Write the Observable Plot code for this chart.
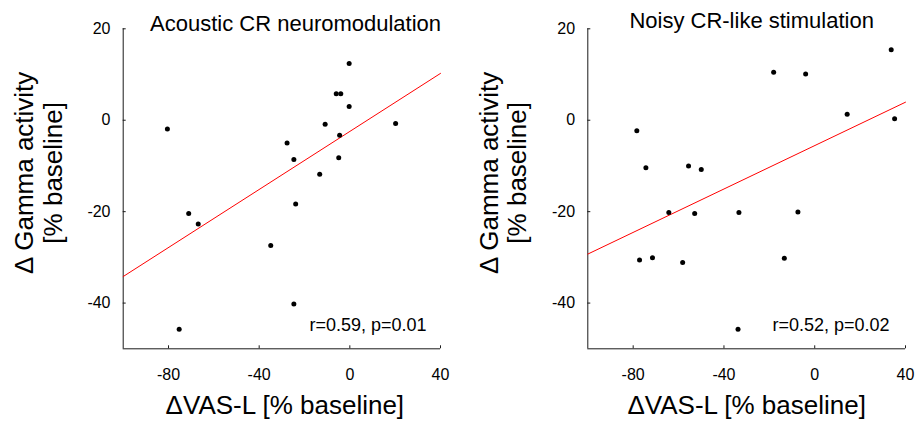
<!DOCTYPE html>
<html>
<head>
<meta charset="utf-8">
<script src="https://cdn.jsdelivr.net/npm/d3@7"></script>
<script src="https://cdn.jsdelivr.net/npm/@observablehq/plot@0.6"></script>
<style>
  html, body { margin: 0; padding: 0; background: #fff; }
  #wrap { position: relative; width: 915px; height: 422px; overflow: hidden; }
  #wrap svg { position: absolute; top: 0; overflow: visible; }
</style>
</head>
<body>
<div id="wrap"></div>
<script>
// ---- data ----
const xTicks = [-80, -40, 0, 40];
const yTicks = [20, 0, -20, -40];
const xDomain = [-100, 40];
const yDomain = [-50, 20];

const titles = ["Acoustic CR neuromodulation", "Noisy CR-like stimulation"];
const stats = ["r=0.59, p=0.01", "r=0.52, p=0.02"];
const xLabel = "ΔVAS-L [% baseline]";
const yLabelLines = ["Δ Gamma activity", "[% baseline]"];

const acousticVAS   = [-80.5, -75.3, -71.1, -66.9, -34.9, -27.7, -24.7, -23.9, -24.7, -13.3, -10.9, -6.0, -4.0, -4.5, -4.9, -0.3, -0.3, 20.2];
const acousticGamma = [ -1.9, -45.7, -20.4, -22.7, -27.4,  -5.0,  -8.6, -18.3, -40.2, -11.8,  -0.9,  5.8,  5.8, -3.3, -8.2, 12.4,  3.0, -0.7];

const noisyVAS   = [-78.4, -74.4, -77.2, -71.5, -64.3, -58.2, -55.6, -50.0, -52.9, -33.4, -33.8, -18.1, -13.4, -7.4, -4.0, 14.3, 33.7, 35.2];
const noisyGamma = [ -2.3, -10.4, -30.6, -30.1, -20.2, -31.1, -10.0, -10.8, -20.4, -20.2, -45.7,  10.5, -30.2, -20.1, 10.1,  1.3, 15.4,  0.3];

// ---- helpers ----
function fit(xs, ys) {
  const n = xs.length;
  const mx = d3.mean(xs), my = d3.mean(ys);
  let sxy = 0, sxx = 0;
  for (let i = 0; i < n; i++) { sxy += (xs[i] - mx) * (ys[i] - my); sxx += (xs[i] - mx) ** 2; }
  const b = sxy / sxx, a = my - b * mx;
  return xDomain.map(x => ({x, y: a + b * x}));
}

const FONT = "'Liberation Sans', Arial, Helvetica, sans-serif";
const AXIS = "#1a1a1a";
const fmt = d => String(d);

function panel({xs, ys, title, stat, left, width, marginLeft, marginRight, titleDx, titleDy, statDx, xLabelDx}) {
  const pts = xs.map((x, i) => ({x, y: ys[i]}));
  const chart = Plot.plot({
    width, height: 422,
    marginLeft, marginRight, marginTop: 28.3, marginBottom: 73.7,
    style: {fontFamily: FONT, fontSize: "16px", color: "#000", background: "transparent", overflow: "visible"},
    x: {domain: xDomain, axis: null},
    y: {domain: yDomain, axis: null},
    marks: [
      Plot.ruleX([xDomain[0]], {stroke: AXIS, strokeWidth: 1}),
      Plot.ruleY([yDomain[0]], {stroke: AXIS, strokeWidth: 1}),
      Plot.axisX(xTicks, {tickSize: -3, tickPadding: 23, stroke: AXIS, fontSize: 16, label: null, tickFormat: fmt}),
      Plot.axisY(yTicks, {tickSize: -3, tickPadding: 15.7, stroke: AXIS, fontSize: 16, label: null, tickFormat: fmt}),
      Plot.line(fit(xs, ys), {x: "x", y: "y", stroke: "#ff0000", strokeWidth: 1}),
      Plot.dot(pts, {x: "x", y: "y", r: 2.5, fill: "#000", stroke: "none"}),
      Plot.text([title], {frameAnchor: "top", textAnchor: "middle", lineAnchor: "bottom", dx: titleDx, dy: titleDy, fontSize: 22, fill: "#000"}),
      Plot.text([stat], {frameAnchor: "bottom-right", textAnchor: "end", lineAnchor: "bottom", dx: statDx, dy: -18, fontSize: 18, fill: "#000"}),
      Plot.text([xLabel], {frameAnchor: "bottom", textAnchor: "middle", lineAnchor: "bottom", dx: xLabelDx, dy: 64.7, fontSize: 26, fill: "#000"}),
      Plot.text([yLabelLines[0]], {frameAnchor: "left", textAnchor: "middle", rotate: -90, lineAnchor: "bottom", dx: -90, dy: -16, fontSize: 26, fill: "#000"}),
      Plot.text([yLabelLines[1]], {frameAnchor: "left", textAnchor: "middle", rotate: -90, lineAnchor: "bottom", dx: -61.5, dy: -16, fontSize: 26, fill: "#000"})
    ]
  });
  chart.style.left = left + "px";
  document.getElementById("wrap").appendChild(chart);
}

panel({xs: acousticVAS, ys: acousticGamma, title: titles[0], stat: stats[0],
       left: 0, width: 457, marginLeft: 122.7, marginRight: 17, titleDx: 13.7, titleDy: 1.7, statDx: -14, xLabelDx: 3});
panel({xs: noisyVAS, ys: noisyGamma, title: titles[1], stat: stats[1],
       left: 457, width: 458, marginLeft: 130.3, marginRight: 10, titleDx: 5, titleDy: -1.3, statDx: -16, xLabelDx: 0});
</script>
</body>
</html>
